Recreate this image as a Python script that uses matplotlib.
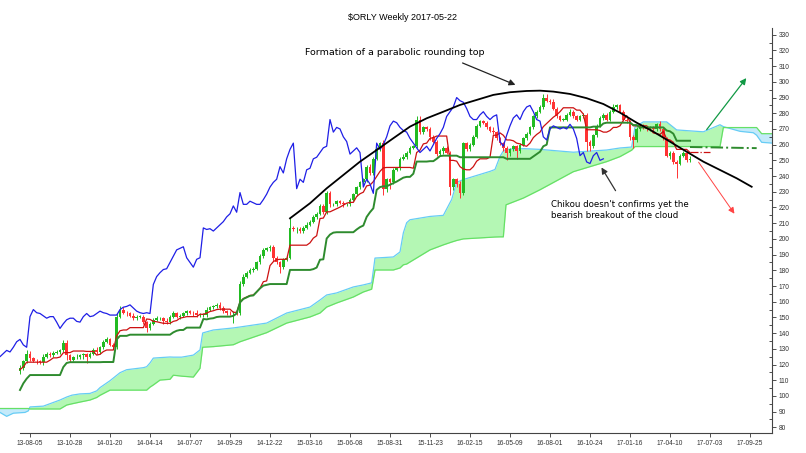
import numpy as np
import pandas as pd
import matplotlib
matplotlib.use("Agg")
import matplotlib.pyplot as plt

# weekly closes, week index 0 = 2013-08-05, first bar = week -3
first_week = -3
close = [118, 122, 127, 124, 122.5, 122, 121.5, 125, 127, 126,
         127.5, 128, 129, 134, 126, 123, 124.5, 125, 126, 126.5,
         125, 127, 129, 128, 131, 134.5, 136, 132.5, 131, 150.5,
         155, 153, 152.5, 151, 149.5, 150.5, 150.5, 147, 143, 146,
         148.5, 149.5, 149.5, 147.5, 147, 150.5, 152.5, 150.5, 151, 152.5,
         154, 153, 152.5, 151.5, 151.5, 151.5, 155, 156.5, 157, 158,
         156, 154, 153, 152.5, 153, 152.5, 171, 176, 178.5, 180.5,
         181, 185, 189, 193, 194, 195, 188, 185, 182, 187,
         188, 207, 206, 206.5, 205, 207, 209, 211, 214, 216,
         221, 217, 229.5, 222, 222, 224, 223, 222, 222, 225,
         228.5, 233, 236, 238, 246, 242, 251, 257, 261, 232,
         238, 236, 244, 245, 251, 252, 255, 258, 259, 276,
         268, 271, 270, 265, 262, 254, 256, 258, 255, 233,
         238, 235, 229, 261, 257, 260, 265, 272, 275, 274,
         271, 269, 268, 264, 261, 258, 255, 257, 259, 256,
         260, 264, 267, 271, 278, 281, 284, 290, 288, 287,
         283, 278, 276, 276, 279, 281, 278, 276, 278, 279,
         262, 259, 266, 272, 277, 279, 276, 281, 284, 285,
         281, 276, 275, 265, 263, 270, 272, 271, 270, 271,
         270, 273, 270, 264, 253, 255, 249, 248, 253, 255,
         250, 251]
first_open = 116

up_wick = [1.5, 1, 2, 1.5, 1, 1, 1, 1.5, 1, 1,
           1, 1, 1, 1.5, 1.7, 1, 1, 1.5, 1, 1,
           1, 1, 1.5, 2, 1, 1, 1.5, 1, 1, 2,
           2, 1.5, 1, 1, 1.5, 1, 1, 1, 1, 1,
           1, 1.5, 1, 1, 2, 1, 1.5, 1, 1, 1,
           1, 1, 1, 2, 1, 1, 1.5, 1, 1, 1.5,
           2, 1, 1, 1, 1, 1, 2, 1.5, 1, 1,
           1, 1, 1.5, 1, 1, 1, 1, 1, 1, 1,
           1, 7, 1, 1, 1, 1, 1.5, 1, 1, 1,
           1, 1.5, 1, 1, 1, 1, 1, 1, 1, 1,
           1, 1, 1, 1, 1, 2, 1, 1.5, 1, 2,
           1, 1, 1, 1, 1, 2, 1, 1, 1, 2,
           2, 1, 1, 1, 1, 1, 1, 1, 1, 1,
           1, 1, 2, 1, 1, 1, 1, 1, 1, 1,
           1, 1, 2, 1, 1, 1, 1, 1, 1, 1,
           1, 1, 1, 1, 1, 1, 1, 2, 2, 1,
           2, 1, 1, 1, 1, 2, 1, 1, 1, 1,
           1, 1, 1, 1, 1, 1, 1, 1, 2, 1,
           1, 1, 1, 1, 1, 1, 1, 1, 1, 1,
           1, 1, 2, 1, 1, 1, 1, 1, 1, 1,
           1, 2]
dn_wick = [2, 1.5, 1, 1.5, 1, 1.5, 1, 2, 1, 1,
           1, 1, 1, 1, 3, 1.5, 1, 1, 1.5, 2.5,
           4, 1, 1, 1, 1, 1, 1, 1, 1, 1,
           1, 1, 1.5, 1, 1, 1, 1, 1.5, 2, 1,
           1, 1, 1, 1.5, 1, 1, 1, 1, 1.5, 1,
           1, 1, 1.5, 1, 1, 1, 1, 1, 1, 1,
           1, 1, 1.5, 1, 6, 1, 1, 1, 1, 1,
           1.5, 1, 1, 1, 1, 1.5, 2, 1, 4, 1,
           1, 1, 1, 2, 1, 1, 1, 1, 1, 1.5,
           1, 1, 1, 2, 1, 1, 1, 1.5, 1, 1,
           1, 1, 1, 1, 2, 1, 1, 1, 1, 4,
           2, 4, 1, 1, 1, 1, 1, 1, 1, 1,
           1, 1, 1, 2, 1, 1, 1, 2, 1, 5,
           2, 2, 3, 1, 1, 1, 1, 1, 1, 1,
           1, 1, 1, 1, 1, 2, 5, 2, 1, 5,
           1, 1, 1, 1, 1, 1, 1, 1, 1, 1,
           1, 1, 1, 1, 1, 1, 1, 1, 1, 1,
           6, 3, 1, 1, 1, 1, 1, 1, 1, 1,
           1, 1, 1, 2, 5, 1, 1, 1, 1, 1,
           1, 1, 1, 1, 1, 2, 1, 9, 1, 1,
           1, 1]

# kijun over the first weeks (its 26-week window reaches before the chart)
kijun_head = [103.8, 108, 111, 113.3, 113.3, 113.3, 113.3, 113.3, 113.3, 113.3,
              113.3, 113.3, 113.3, 118.4, 121, 121.5, 121.5, 121.5, 121.5, 121.5,
              121.5, 121.5, 121.5, 121.5, 121.5, 121.6, 121.6, 121.6, 121.6]

# Ichimoku cloud (senkou spans, already shifted 26 weeks ahead)
cloud_weeks = [-9, -7, -5, -1.5, -0.5, 0, 4, 9, 11, 12.6, 15, 18, 20, 21, 24, 27, 29, 34, 35, 36,
               37, 39, 42, 43, 45.5, 49, 51, 51.8, 55, 61, 63, 71, 77, 84, 87, 89, 92, 97, 100,
               102.5, 103.5, 109, 111, 112, 113, 114, 120, 124, 126.5, 128, 130, 138, 139.5, 141,
               142, 142.8, 148, 153, 163, 173, 177, 180.5, 181.5, 184, 191, 194, 202, 207, 208,
               213, 217, 218, 219.5, 222.6]
span_a = [89.5, 87, 89, 89.5, 90.5, 93, 93.5, 97.4, 99.3, 100.5, 101.3, 101.6, 103.2, 105.3, 109.7,
          114.8, 116.7, 118, 118.6, 121, 124.1, 124.4, 124.8, 124.7, 124.7, 126, 129.3, 140.1, 142,
          143.3, 143.9, 146.4, 152.8, 156.6, 161.1, 164.3, 165.6, 169.4, 170.7, 172, 187.8, 188.5,
          191.7, 203.8, 210.3, 212.2, 214.3, 215, 225.1, 236, 237.8, 243, 244.2, 252.5, 256, 257,
          257.5, 257, 255.2, 256.6, 257.9, 258.5, 271.3, 274.5, 274.5, 269.4, 268.2, 272.7, 271.5,
          268.5, 267.6, 266, 261.5, 261]
span_b = [92, 92, 92, 92, 92, 91.7, 91.7, 91.7, 94.2, 95, 96.1, 97.4, 99, 100.4, 103.7, 103.7, 103.7,
          103.7, 103.7, 105.6, 107, 110.1, 110.6, 113.2, 112.6, 112, 117.6, 131, 131.4, 132.6, 134.5,
          140.3, 146.4, 150.3, 152.8, 156.6, 159.2, 163, 166.2, 168, 180.2, 180.2, 181.5, 183.5, 184,
          185.3, 193, 196.2, 198, 199, 200, 201, 201.2, 201.3, 201.3, 221.7, 226, 231.3, 242.8, 249.2,
          252.4, 256.5, 258.8, 258.8, 258.8, 258.8, 258.8, 258.8, 270.9, 270.9, 270.9, 270.9, 267, 267]

# projected tenkan / kijun after the last bar
tenkan_proj_weeks = [198, 204]
tenkan_proj = [255.5, 255.5]
kijun_proj_weeks = [198, 218]
kijun_proj = [258.5, 257.8]

# hand-drawn rounding top
arc_weeks = [78, 84, 89, 94, 99, 104, 109, 114, 119, 124, 129, 134, 139, 144, 149, 153, 157, 162,
             167, 172, 177, 182, 187, 192, 197, 202, 207, 212, 216.5]
arc_vals = [213.1, 222.7, 232.2, 240.7, 249.2, 256.6, 264.1, 271.5, 276.8, 281, 285.3, 288.5, 291.7,
            293.4, 294.2, 294.4, 293.8, 292.3, 289.6, 285.9, 280.4, 274, 268.3, 261.9, 255.5, 249.2,
            243.9, 238.6, 233.2]

tick_weeks = list(range(0, 217, 12))
tick_labels = ['13-08-05', '13-10-28', '14-01-20', '14-04-14', '14-07-07', '14-09-29', '14-12-22',
               '15-03-16', '15-06-08', '15-08-31', '15-11-23', '16-02-15', '16-05-09', '16-08-01',
               '16-10-24', '17-01-16', '17-04-10', '17-07-03', '17-09-25']

weeks = np.arange(first_week, first_week + len(close))
df = pd.DataFrame({'close': close}, index=weeks)
df['open'] = df['close'].shift(1).fillna(first_open)
df['high'] = df[['open', 'close']].max(axis=1) + np.array(up_wick)
df['low'] = df[['open', 'close']].min(axis=1) - np.array(dn_wick)
tenkan = (df['high'].rolling(9, min_periods=1).max() + df['low'].rolling(9, min_periods=1).min()) / 2
kijun = (df['high'].rolling(26, min_periods=1).max() + df['low'].rolling(26, min_periods=1).min()) / 2
kijun.iloc[:len(kijun_head)] = kijun_head

fig = plt.figure(figsize=(8.06, 4.53), dpi=100)
ax = fig.add_axes([0, 20 / 453, 772 / 806, 405 / 453])

# cloud
cw = np.array(cloud_weeks)
sa = np.array(span_a)
sb = np.array(span_b)
ax.fill_between(cw, sa, sb, where=sa >= sb, interpolate=True, color='#b4f7b4', lw=0, zorder=1)
ax.fill_between(cw, sa, sb, where=sa < sb, interpolate=True, color='#c4eafa', lw=0, zorder=1)
ax.plot(cw, sa, color='#66ccf5', lw=0.9, zorder=1.5)
ax.plot(cw, sb, color='#66e066', lw=0.9, zorder=1.5)

# candles
up = df['close'] >= df['open']
colors = np.where(up, '#22bb22', '#ff3333')
ax.vlines(df.index, df['low'], df['high'], colors=colors, lw=0.7, zorder=2)
body_lo = df[['open', 'close']].min(axis=1)
body_h = (df['close'] - df['open']).abs().clip(lower=0.4)
ax.bar(df.index, body_h, bottom=body_lo, width=0.72, color=colors, lw=0, zorder=2)

# ichimoku lines
ax.plot(df.index, tenkan, color='#cc1111', lw=0.9, zorder=3)
ax.plot(df.index, kijun, color='#2e8b2e', lw=1.4, zorder=3)
ax.plot(df.index - 26, df['close'], color='#1f1fe6', lw=0.9, zorder=4)
ax.plot(tenkan_proj_weeks, tenkan_proj, color='#cc1111', lw=0.9, ls='-.', zorder=3)
ax.plot(kijun_proj_weeks, kijun_proj, color='#2e8b2e', lw=1.4, ls='-.', zorder=3)

# rounding top
ax.plot(arc_weeks, arc_vals, color='black', lw=1.3, zorder=5)

ax.text(82.5, 319, 'Formation of a parabolic rounding top', fontsize=6.8, va='center', ha='left')
ax.annotate('', xy=(146.4, 297.4), xytext=(129, 312.7),
            arrowprops=dict(arrowstyle='-|>', color='#222222', lw=0.9, mutation_scale=9))
ax.text(156.3, 224.5, "Chikou doesn't confirms yet the\nbearish breakout of the cloud",
        fontsize=6.2, va='top', ha='left', linespacing=1.25)
ax.annotate('', xy=(171, 247), xytext=(176.1, 229.2),
            arrowprops=dict(arrowstyle='-|>', color='#333333', lw=0.9, mutation_scale=9))
ax.annotate('', xy=(215.4, 303.8), xytext=(202.5, 268.2),
            arrowprops=dict(arrowstyle='-|>', color='#119944', lw=0.9, mutation_scale=9))
ax.annotate('', xy=(211.8, 214.6), xytext=(200.1, 250.3),
            arrowprops=dict(arrowstyle='-|>', color='#ff4444', lw=0.7, mutation_scale=9))

ax.set_xlim(-9, 222.6)
ax.set_ylim(76.4, 334.3)
for s in ['top', 'left']:
    ax.spines[s].set_visible(False)
ax.spines['bottom'].set_bounds(-3, 222.6)
ax.spines['bottom'].set_color('#444444')
ax.spines['right'].set_color('#444444')
ax.yaxis.tick_right()
ax.set_yticks(np.arange(80, 331, 10))
ax.set_yticks(np.arange(85, 330, 10), minor=True)
ax.set_xticks(tick_weeks)
ax.set_xticklabels(tick_labels)
ax.tick_params(axis='both', labelsize=4.8, colors='#333333', length=3, width=0.6, pad=2)
ax.tick_params(axis='y', which='minor', length=2, width=0.6, direction='in', colors='#333333')
for lab in ax.get_xticklabels() + ax.get_yticklabels():
    lab.set_family('Liberation Sans')

fig.text(403 / 806, 1 - 17 / 453, '$ORLY Weekly 2017-05-22', ha='center', va='center',
         fontsize=6.5, family='Liberation Sans')

fig.savefig('out.png', dpi=100)
